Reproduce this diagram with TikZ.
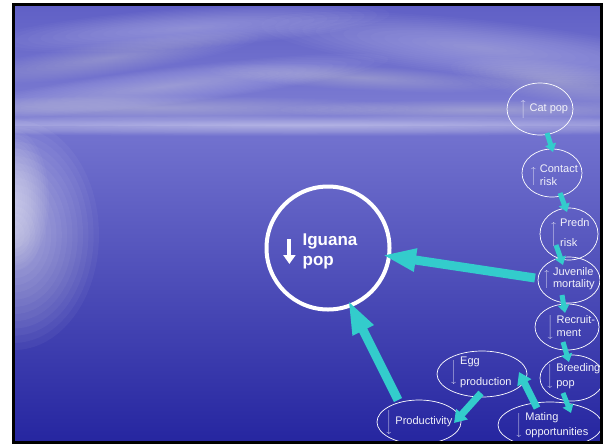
\documentclass[tikz,border=0pt]{standalone}
\usepackage{fontspec}
\setmainfont{Liberation Sans}
\usetikzlibrary{shapes.geometric,arrows.meta}

\definecolor{skytop}{RGB}{96,96,198}
\definecolor{skylow}{RGB}{128,128,212}
\definecolor{seatop}{RGB}{116,116,208}
\definecolor{seabot}{RGB}{38,38,160}
\definecolor{arrowteal}{RGB}{51,204,204}
\definecolor{labelwhite}{RGB}{242,242,250}

% thin up/down arrows in front of the labels
\newcommand{\uparr}[1]{$\left\uparrow\vcenter{\hbox{\rule{0pt}{#1}}}\right.$}
\newcommand{\dnarr}[1]{$\left\downarrow\vcenter{\hbox{\rule{0pt}{#1}}}\right.$}
% label text that does not change the size of the ellipse
\newcommand{\intext}[3][0pt]{\makebox[0pt]{\hspace*{#1}\hspace*{#1}\smash{\raisebox{#2}{#3}}}}
\newcommand{\twoline}[3][0pt]{\begin{tabular}{@{}l@{}}#2\\[#1]#3\end{tabular}}

\tikzset{
  blob/.style={ellipse, draw=white, line width=0.7pt, inner sep=0pt, text=labelwhite,
    font=\fontsize{11}{13}\selectfont},
  link/.style={arrowteal, line width=5pt, -{Triangle[width=11pt,length=8pt]}},
  midlink/.style={arrowteal, line width=7pt, -{Triangle[width=15pt,length=12pt]}},
  biglink/.style={arrowteal, line width=9pt, -{Triangle[width=21pt,length=34pt]}},
}

\begin{document}
\begin{tikzpicture}[x=1pt,y=-1pt]
  \useasboundingbox (0,0) rectangle (604,445);
  \fill[white] (0,0) rectangle (604,445);

  \begin{scope}
    \clip (15,6) rectangle (600,441);
    % sky and sea
    \shade[top color=skytop, bottom color=skylow] (15,6) rectangle (600,126);
    \shade[top color=seatop, bottom color=seabot] (15,126) rectangle (600,441);
    % clouds, horizon and light on the water (stacked soft ellipses)
    \foreach \cx/\cy/\rx/\ry/\ang/\op in {
        190/28/200/20/4/0.022, 480/48/220/28/-6/0.022, 110/58/150/16/8/0.02,
        170/86/220/18/7/0.022, 360/78/150/12/-3/0.02, 560/82/110/20/-8/0.02,
        150/108/260/12/0/0.02, 480/110/200/10/0/0.02, 300/126/600/10/0/0.035,
        14/235/85/115/0/0.045, 14/200/35/70/0/0.04}
      \foreach \k in {1,...,16}
        \fill[white, opacity=\op, rotate around={\ang:(\cx,\cy)}]
          (\cx,\cy) ellipse ({\rx*\k/16} and {\ry*\k/16});

    % nodes
    \node[blob, minimum width=66pt, minimum height=52pt] (cat) at (540,109)
      {\intext[4pt]{-2.75pt}{\uparr{17pt}\,Cat pop}};
    \node[blob, minimum width=60pt, minimum height=48pt] (contact) at (552,173)
      {\intext[2pt]{-6.5pt}{\uparr{17pt}\,\twoline{Contact}{risk}}};
    \node[blob, minimum width=58pt, minimum height=52pt] (predn) at (569,234)
      {\intext[1pt]{-2.75pt}{\uparr{24pt}\,\twoline[7pt]{Predn}{risk}}};
    \node[blob, minimum width=62pt, minimum height=46pt] (juv) at (569,280)
      {\intext[0pt]{-2pt}{\uparr{14pt}\,\twoline[-1pt]{Juvenile}{mortality}}};
    \node[blob, minimum width=64pt, minimum height=46pt] (recr) at (567,327)
      {\intext[4pt]{-2.75pt}{\dnarr{22pt}\,\twoline{Recruit-}{ment}}};
    \node[blob, minimum width=64pt, minimum height=46pt] (breed) at (572,378)
      {\intext[1.5pt]{-1pt}{\dnarr{21pt}\,\twoline[2pt]{Breeding}{pop}}};
    \node[blob, minimum width=104pt, minimum height=46pt] (mating) at (550,425)
      {\intext[2pt]{-2.75pt}{\dnarr{21pt}\,\twoline[2pt]{Mating}{opportunities}}};
    \node[blob, minimum width=90pt, minimum height=46pt] (egg) at (482,374)
      {\intext[-1pt]{-1pt}{\dnarr{24pt}\,\twoline[8pt]{Egg}{production}}};
    \node[blob, minimum width=84pt, minimum height=44pt] (prod) at (419,422)
      {\intext[0pt]{-2.75pt}{\dnarr{22pt}\,Productivity}};

    \node[circle, draw=white, line width=4pt, minimum size=123pt, inner sep=0pt] (igu) at (328,248) {};
    \node[align=left, text=white, inner sep=0pt, font=\bfseries\fontsize{17}{20}\selectfont]
      (igtxt) at (330,251) {Iguana\\pop};
    \draw[white, line width=4pt, -{Triangle[width=12pt,length=9pt]}]
      ([shift={(-13,-12)}]igtxt.west) -- ([shift={(-13,13)}]igtxt.west);

    % causal chain
    \draw[link] ([shift={(7,24)}]cat.center) -- ([shift={(1,-21)}]contact.center);
    \draw[link] ([shift={(8,20)}]contact.center) -- ([shift={(-2,-22)}]predn.center);
    \draw[link] ([shift={(-13,11)}]predn.center) -- ([shift={(-6,-15)}]juv.center);
    \draw[link] ([shift={(-7,15)}]juv.center) -- ([shift={(-2,-14)}]recr.center);
    \draw[link] ([shift={(-4,15)}]recr.center) -- ([shift={(-3,-16)}]breed.center);
    \draw[link] ([shift={(-9,15)}]breed.center) -- ([shift={(21,-12)}]mating.center);
    \draw[midlink] ([shift={(-13,-17)}]mating.center) -- ([shift={(37,-2)}]egg.center);
    \draw[midlink] ([shift={(-1,19)}]egg.center) -- ([shift={(35,1)}]prod.center);
    \draw[biglink] ([shift={(-34,-2)}]juv.center) -- ([shift={(54,7)}]igu.center);
    \draw[biglink] ([shift={(-21,-22)}]prod.center) -- ([shift={(20,52)}]igu.center);
  \end{scope}

  \draw[line width=3pt] (13.5,4.5) rectangle (601.5,442.5);
\end{tikzpicture}
\end{document}
